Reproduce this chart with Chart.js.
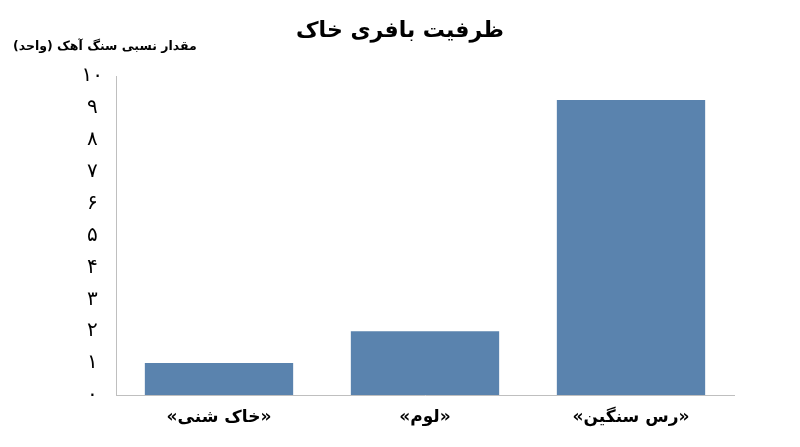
<!DOCTYPE html>
<html>
<head>
<meta charset="utf-8">
<script src="https://cdn.jsdelivr.net/npm/chart.js@4/dist/chart.umd.min.js"></script>
<style>
  html, body { margin: 0; padding: 0; background: #ffffff; }
  #wrap { width: 800px; height: 447px; }
</style>
</head>
<body>
<div id="wrap"><canvas id="c" width="800" height="447"></canvas></div>
<script>
const RLM = '\u200F';
const chartTitle = 'ظرفیت بافری خاک';
const yAxisTitle = 'مقدار نسبی سنگ آهک (واحد)';
const categories = ['«خاک شنی»', '«لوم»', '«رس سنگین»'];
const values = [1, 2, 9.25];
const yTickLabels = ['۰', '۱', '۲', '۳', '۴', '۵', '۶', '۷', '۸', '۹', '۱۰'];

const FONT = "'DejaVu Sans', 'Noto Sans', sans-serif";

const textPlugin = {
  id: 'texts',
  afterDraw(chart) {
    const ctx = chart.ctx;
    ctx.save();
    ctx.fillStyle = '#000000';
    ctx.textBaseline = 'middle';
    ctx.font = "bold 22px " + FONT;
    ctx.textAlign = 'center';
    ctx.fillText(RLM + chartTitle + RLM, 400, 31);
    ctx.font = "bold 12.5px " + FONT;
    ctx.textAlign = 'left';
    ctx.fillText(RLM + yAxisTitle + RLM, 13, 47);
    ctx.restore();
  }
};

new Chart(document.getElementById('c'), {
  type: 'bar',
  data: {
    labels: categories.map(s => RLM + s + RLM),
    datasets: [{
      data: values,
      backgroundColor: '#5a83ae',
      borderWidth: 0,
      categoryPercentage: 1,
      barPercentage: 0.72
    }]
  },
  options: {
    responsive: false,
    animation: false,
    devicePixelRatio: 1,
    layout: { padding: { top: 76, left: 12, right: 66, bottom: 0 } },
    plugins: {
      legend: { display: false },
      tooltip: { enabled: false },
      title: { display: false }
    },
    scales: {
      x: {
        grid: { display: false, drawTicks: false },
        border: { display: true, color: '#bfbfbf', width: 1 },
        ticks: {
          color: '#000000',
          padding: 12,
          font: { family: FONT, size: 17, weight: 'bold' }
        },
        afterFit(scale) { scale.height = 52; }
      },
      y: {
        min: 0,
        max: 10,
        grid: { display: false, drawTicks: false },
        border: { display: true, color: '#bfbfbf', width: 1 },
        ticks: {
          stepSize: 1,
          color: '#000000',
          padding: 13,
          crossAlign: 'center',
          font: { family: FONT, size: 20 },
          callback: (v) => yTickLabels[v]
        },
        afterFit(scale) { scale.width = 104; }
      }
    }
  },
  plugins: [textPlugin]
});
</script>
</body>
</html>
